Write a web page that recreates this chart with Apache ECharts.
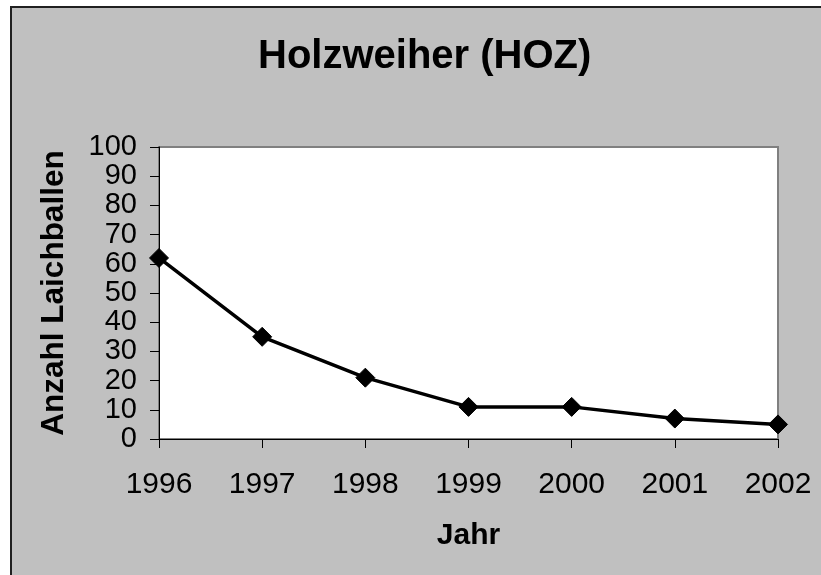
<!DOCTYPE html>
<html>
<head>
<meta charset="utf-8">
<title>Holzweiher (HOZ)</title>
<script src="https://cdn.jsdelivr.net/npm/echarts@6/dist/echarts.min.js"></script>
<style>
html, body { margin: 0; padding: 0; background: #fff; }
#chart { width: 821px; height: 575px; }
</style>
</head>
<body>
<div id="chart"></div>
<script>
var years = ['1996', '1997', '1998', '1999', '2000', '2001', '2002'];
var laichballen = [62, 35, 21, 11, 11, 7, 5];

var myChart = echarts.init(document.getElementById('chart'));
var option = {
	backgroundColor: '#ffffff',
	animation: false,
	graphic: [{
		type: 'rect',
		z: -10,
		shape: { x: 11, y: 7, width: 830, height: 590 },
		style: { fill: '#c0c0c0', stroke: '#202020', lineWidth: 2 }
	}],
	title: {
		text: 'Holzweiher (HOZ)',
		left: 258,
		top: 37,
		padding: 0,
		textStyle: {
			fontFamily: 'Arial, Liberation Sans, sans-serif',
			fontSize: 40,
			fontWeight: 'bold',
			color: '#000'
		}
	},
	grid: {
		left: 159,
		top: 147,
		right: 43,
		bottom: 136,
		show: true,
		backgroundColor: '#ffffff',
		borderColor: '#808080',
		borderWidth: 2
	},
	xAxis: {
		type: 'category',
		boundaryGap: false,
		data: years,
		name: 'Jahr',
		nameLocation: 'middle',
		nameGap: 82,
		nameTextStyle: {
			fontFamily: 'Arial, Liberation Sans, sans-serif',
			fontSize: 30,
			fontWeight: 'bold',
			color: '#000'
		},
		axisLine: { lineStyle: { color: '#000', width: 1 } },
		axisTick: { show: true, length: 9, alignWithLabel: true, lineStyle: { color: '#000' } },
		axisLabel: {
			margin: 31,
			interval: 0,
			fontFamily: 'Arial, Liberation Sans, sans-serif',
			fontSize: 30,
			color: '#000'
		},
		splitLine: { show: false }
	},
	yAxis: {
		type: 'value',
		min: 0,
		max: 100,
		interval: 10,
		name: 'Anzahl Laichballen',
		nameLocation: 'middle',
		nameGap: 89,
		nameTextStyle: {
			fontFamily: 'Arial, Liberation Sans, sans-serif',
			fontSize: 31.5,
			fontWeight: 'bold',
			color: '#000'
		},
		axisLine: { show: true, lineStyle: { color: '#000', width: 1 } },
		axisTick: { show: true, length: 9, lineStyle: { color: '#000' } },
		axisLabel: {
			margin: 22,
			lineHeight: 20,
			fontFamily: 'Arial, Liberation Sans, sans-serif',
			fontSize: 29,
			color: '#000'
		},
		splitLine: { show: false }
	},
	series: [{
		name: 'Anzahl Laichballen',
		type: 'line',
		data: laichballen,
		symbol: 'diamond',
		symbolSize: 19,
		showAllSymbol: true,
		lineStyle: { color: '#000', width: 3.5 },
		itemStyle: { color: '#000', borderColor: '#000' }
	}]
};
myChart.setOption(option);
</script>
</body>
</html>
